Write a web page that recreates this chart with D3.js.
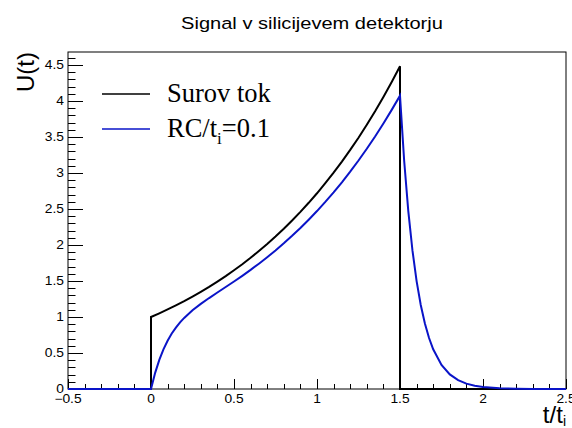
<!DOCTYPE html>
<html>
<head>
<meta charset="utf-8">
<script src="https://cdn.jsdelivr.net/npm/d3@7"></script>
<style>
  html, body { margin: 0; padding: 0; background: #fff; }
  svg { display: block; }
  text { font-family: "Liberation Sans", Arial, Helvetica, sans-serif; }
  .serif { font-family: "Liberation Serif", "Times New Roman", serif; }
</style>
</head>
<body>
<svg id="chart" width="572" height="428"></svg>
<script>
// Raw current pulse (time in units of t_i)
const rawT = [-0.5, 0, 0, 0.05, 0.1, 0.15, 0.2, 0.25, 0.3, 0.35, 0.4, 0.45, 0.5, 0.55, 0.6, 0.65,
  0.7, 0.75, 0.8, 0.85, 0.9, 0.95, 1.0, 1.05, 1.1, 1.15, 1.2, 1.25, 1.3, 1.35, 1.4, 1.45, 1.5, 1.5, 2.5];
const rawU = [0, 0, 1.0, 1.051, 1.105, 1.162, 1.221, 1.284, 1.350, 1.419, 1.492, 1.568, 1.649, 1.733, 1.822, 1.916,
  2.014, 2.117, 2.226, 2.340, 2.460, 2.586, 2.718, 2.858, 3.004, 3.158, 3.320, 3.490, 3.669, 3.857, 4.055, 4.263, 4.482, 0, 0];

// Signal after RC shaping, RC/t_i = 0.1
const rcT = [-0.5, 0, 0.025, 0.05, 0.075, 0.1, 0.125, 0.15, 0.175, 0.2, 0.25, 0.3, 0.35, 0.4, 0.45, 0.5,
  0.55, 0.6, 0.65, 0.7, 0.75, 0.8, 0.85, 0.9, 0.95, 1.0, 1.05, 1.1, 1.15, 1.2, 1.25, 1.3, 1.35, 1.4, 1.45, 1.5,
  1.525, 1.55, 1.575, 1.6, 1.625, 1.65, 1.675, 1.7, 1.75, 1.8, 1.85, 1.9, 1.95, 2.0, 2.1, 2.2, 2.3, 2.5];
const rcU = [0, 0, 0.224, 0.404, 0.550, 0.670, 0.770, 0.853, 0.925, 0.987, 1.093, 1.182, 1.263, 1.340, 1.416, 1.493,
  1.572, 1.654, 1.740, 1.830, 1.924, 2.023, 2.127, 2.236, 2.351, 2.471, 2.598, 2.731, 2.871, 3.018, 3.173, 3.336, 3.507, 3.687, 3.876, 4.074,
  3.173, 2.471, 1.925, 1.499, 1.167, 0.909, 0.708, 0.551, 0.334, 0.203, 0.123, 0.075, 0.045, 0.028, 0.010, 0.004, 0.001, 0];

const xTicks = [-0.5, 0, 0.5, 1, 1.5, 2, 2.5];
const xTickLabels = ["\u22120.5", "0", "0.5", "1", "1.5", "2", "2.5"];
const yTicks = [0, 0.5, 1, 1.5, 2, 2.5, 3, 3.5, 4, 4.5];
const yTickLabels = ["0", "0.5", "1", "1.5", "2", "2.5", "3", "3.5", "4", "4.5"];

const seriesNames = ["Surov tok", "RC/t", "i", "=0.1"];
const seriesColors = ["#000000", "#0a14c8"];

const svg = d3.select("#chart");
const frame = { left: 68, right: 566, top: 52, bottom: 389 };

const x = d3.scaleLinear().domain([-0.5, 2.5]).range([frame.left, frame.right]);
const y = d3.scaleLinear().domain([0, 4.68]).range([frame.bottom, frame.top]);

// Frame box
svg.append("rect")
  .attr("x", frame.left).attr("y", frame.top)
  .attr("width", frame.right - frame.left).attr("height", frame.bottom - frame.top)
  .attr("fill", "none").attr("stroke", "#000").attr("stroke-width", 1);

// Ticks drawn inside the frame
const xMinor = d3.range(-0.5, 2.5001, 0.1);
const yMinor = d3.range(0, 4.68, 0.1);
const tickG = svg.append("g").attr("stroke", "#000").attr("stroke-width", 1);
tickG.selectAll(".xmin").data(xMinor).join("line")
  .attr("x1", d => Math.round(x(d)) + 0.5).attr("x2", d => Math.round(x(d)) + 0.5)
  .attr("y1", frame.bottom).attr("y2", frame.bottom - 5);
tickG.selectAll(".xmaj").data(xTicks).join("line")
  .attr("x1", d => Math.round(x(d)) + 0.5).attr("x2", d => Math.round(x(d)) + 0.5)
  .attr("y1", frame.bottom).attr("y2", frame.bottom - 10);
tickG.selectAll(".ymin").data(yMinor).join("line")
  .attr("y1", d => Math.round(y(d)) + 0.5).attr("y2", d => Math.round(y(d)) + 0.5)
  .attr("x1", frame.left).attr("x2", frame.left + 7.5);
tickG.selectAll(".ymaj").data(yTicks).join("line")
  .attr("y1", d => Math.round(y(d)) + 0.5).attr("y2", d => Math.round(y(d)) + 0.5)
  .attr("x1", frame.left).attr("x2", frame.left + 15);

// Tick labels (slightly widened glyphs)
svg.append("g").selectAll("text").data(xTicks).join("text")
  .attr("transform", d => `translate(${x(d)},403) scale(1.15,1)`)
  .attr("text-anchor", "middle").attr("font-size", 12)
  .text((d, i) => xTickLabels[i]);
svg.append("g").selectAll("text").data(yTicks).join("text")
  .attr("transform", d => `translate(64,${y(d) + 4.3}) scale(1.15,1)`)
  .attr("text-anchor", "end").attr("font-size", 12)
  .text((d, i) => yTickLabels[i]);

// Curves
const line = d3.line().x(d => x(d[0])).y(d => y(d[1]));
svg.append("path")
  .datum(rawT.map((t, i) => [t, rawU[i]]))
  .attr("d", line).attr("fill", "none")
  .attr("stroke", seriesColors[0]).attr("stroke-width", 2);
svg.append("path")
  .datum(rcT.map((t, i) => [t, rcU[i]]))
  .attr("d", line).attr("fill", "none")
  .attr("stroke", seriesColors[1]).attr("stroke-width", 2);

// Title
svg.append("text").attr("transform", "translate(312,29) scale(1.18,1)")
  .attr("text-anchor", "middle").attr("font-size", 17)
  .text("Signal v silicijevem detektorju");

// Axis titles
svg.append("text").attr("transform", "translate(34,52) rotate(-90)")
  .attr("text-anchor", "end").attr("font-size", 24)
  .text("U(t)");
const xt = svg.append("text").attr("x", 566).attr("y", 423)
  .attr("text-anchor", "end").attr("font-size", 24);
xt.append("tspan").text("t/t");
xt.append("tspan").attr("font-size", 14).attr("dy", 3).text("i");

// Legend
const legend = svg.append("g");
legend.append("line").attr("x1", 102).attr("x2", 150).attr("y1", 94).attr("y2", 94)
  .attr("stroke", seriesColors[0]).attr("stroke-width", 1.5);
legend.append("line").attr("x1", 102).attr("x2", 150).attr("y1", 129).attr("y2", 129)
  .attr("stroke", seriesColors[1]).attr("stroke-width", 1.5);
legend.append("text").attr("class", "serif").attr("x", 167).attr("y", 102)
  .attr("font-size", 26.5).text(seriesNames[0]);
const l2 = legend.append("text").attr("class", "serif").attr("x", 167).attr("y", 137)
  .attr("font-size", 26.5);
l2.append("tspan").text(seriesNames[1]);
l2.append("tspan").attr("font-size", 17).attr("dy", 7).text(seriesNames[2]);
l2.append("tspan").attr("dy", -7).text(seriesNames[3]);
</script>
</body>
</html>
